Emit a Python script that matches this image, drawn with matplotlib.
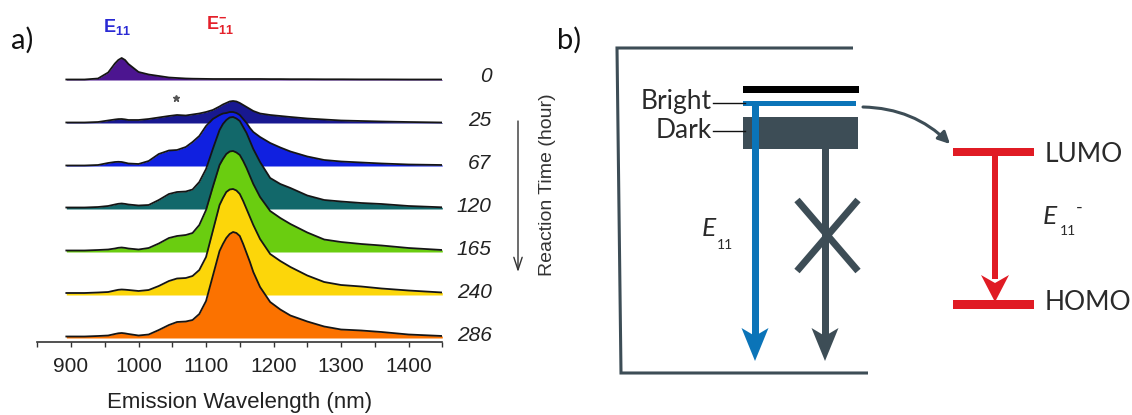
import matplotlib
matplotlib.use("Agg")
import matplotlib.pyplot as plt
from matplotlib.ticker import MultipleLocator
from matplotlib.patches import Rectangle, Polygon

plt.rcParams['font.family'] = ['Liberation Sans', 'DejaVu Sans']
plt.rcParams['mathtext.fontset'] = 'custom'
plt.rcParams['mathtext.rm'] = 'Liberation Sans'
plt.rcParams['mathtext.it'] = 'Liberation Sans:italic'
plt.rcParams['mathtext.bf'] = 'Liberation Sans:bold'

# PL spectra, stacked (intensity in a.u., one offset step = 43)
wavelength = [893, 920, 940, 955, 965, 970, 975, 980, 985, 1000, 1015, 1030, 1045, 1057,
              1070, 1080, 1090, 1100, 1110, 1120, 1125, 1130, 1135, 1140, 1145, 1150, 1155,
              1160, 1165, 1170, 1180, 1195, 1210, 1225, 1250, 1275, 1300, 1330, 1360, 1400, 1450]
times = ['0', '25', '67', '120', '165', '240', '286']
pl_0 = [0.5, 0.5, 1.5, 7.5, 16.5, 20, 22, 20, 16, 8, 5.5, 4, 2.5, 2,
        1.5, 1.3, 1.2, 1.1, 1, 1, 1, 1, 1, 1, 1, 1, 1,
        1, 1, 1, 1, 0.9, 0.9, 0.8, 0.8, 0.7, 0.7, 0.6, 0.6, 0.5, 0.5]
pl_25 = [0.5, 0.5, 1, 2.5, 3.5, 3.9, 4, 3.6, 3, 3, 4, 5.5, 7, 8,
         7.5, 8.5, 9.5, 11, 13, 16.5, 18.5, 20, 21.5, 22, 21.5, 20, 18,
         16, 14, 12, 9.5, 8, 7, 6, 4.5, 3.5, 2.5, 2, 1.5, 1, 0.5]
pl_67 = [0.5, 0.5, 1, 3, 4, 4.2, 4, 3.3, 2.5, 2, 5, 12, 15.5, 16,
         19, 24, 30, 40, 47, 51, 52.5, 53, 54, 54, 53, 51, 47,
         43, 38, 34, 29, 23, 18.5, 14.5, 9.5, 6, 4.5, 3.5, 2.5, 1.5, 1]
pl_120 = [1.5, 1.5, 2, 3, 4.5, 5.2, 5.5, 5.1, 4.5, 3.5, 4, 9, 15, 17,
          17.5, 19.5, 27, 40, 60, 79, 85, 89, 91.5, 92, 90.5, 88, 82,
          76, 68, 60, 47, 31, 25, 21, 13.5, 9, 7.5, 6, 5, 3, 1.7]
pl_165 = [1.5, 1.5, 2, 2.5, 3.5, 4.2, 4.5, 4.1, 3.5, 2.5, 4, 8.5, 14, 16,
          17, 19, 27, 42, 65, 87, 93, 98, 100.5, 101, 99.5, 97, 91,
          84, 76, 68, 55, 41, 34, 28, 19.5, 12.5, 10, 8, 6.5, 4, 2]
pl_240 = [2, 2, 2.5, 3, 4.5, 5.2, 5.5, 5.3, 5, 4, 5, 9, 14, 16.5,
          17, 19, 25, 38, 64, 90, 97, 103, 105.5, 106, 104.5, 101, 94,
          86, 78, 70, 56, 41, 34, 28, 19.5, 13, 10, 8.5, 6.5, 4.5, 2.5]
pl_286 = [1.5, 1.5, 2, 2.5, 4, 4.7, 5, 4.6, 4, 2.5, 3.5, 8, 13, 16,
          16.5, 18, 24, 37, 62, 87, 94, 100, 104, 106, 105, 102, 94,
          85, 76, 66, 51, 36, 28.5, 22.5, 16.5, 11.5, 8.5, 7.5, 6, 3.5, 2]
colors = ['#4c1590', '#181890', '#1020e0', '#12686a', '#6acd10', '#fcd60a', '#fb7200']
offset = 43
star_wl, star_height = 1055, 25

W, H = 1132, 415
fig = plt.figure(figsize=(W / 100, H / 100), dpi=100)

# ---- a) stacked spectra ----
ax = fig.add_axes([37.3 / W, 1 - 342 / H, 405 / W, 302 / H])
series = [pl_0, pl_25, pl_67, pl_120, pl_165, pl_240, pl_286]
n = len(series)
for i, (lab, y, c) in enumerate(zip(times, series, colors)):
    base = (n - 1 - i) * offset
    top = [base + v for v in y]
    ax.fill_between(wavelength, base, top, color=c, lw=0, zorder=2 + 2 * i)
    ax.plot(wavelength, top, color='#151515', lw=1.3, zorder=3 + 2 * i)
    ax.text(1523, base + 3, lab, ha='right', va='center', style='italic',
            fontsize=15, color='#222222', clip_on=False)

ax.plot(star_wl, (n - 2) * offset + star_height, marker='*', ms=5, color='#555555', zorder=20)

ax.set_xlim(850, 1450)
ax.set_ylim(-4, 298)
for s in ['left', 'right', 'top']:
    ax.spines[s].set_visible(False)
ax.spines['bottom'].set_color('#333333')
ax.spines['bottom'].set_linewidth(1.2)
ax.set_yticks([])
ax.xaxis.set_major_locator(MultipleLocator(100))
ax.xaxis.set_minor_locator(MultipleLocator(50))
ax.tick_params(axis='x', which='both', direction='out', length=3.5, width=1,
               color='#333333', labelsize=15, pad=7.5, labelcolor='#222222')
ax.set_xticks(range(900, 1401, 100))
ax.set_xlabel('Emission Wavelength (nm)', fontsize=16, color='#222222', labelpad=11)

ax.text(968, 311, r'$\mathbf{E}_{\mathbf{11}}$', color='#2a2ad4', fontsize=13,
        ha='center', va='center', clip_on=False)
ax.text(1120, 313, r'$\mathbf{E}_{\mathbf{11}}^{\mathbf{-}}$', color='#e4202a', fontsize=13,
        ha='center', va='center', clip_on=False)

# ---- overlay in pixel units: panel labels, time arrow, b) diagram ----
ov = fig.add_axes([0, 0, 1, 1])
ov.set_xlim(0, W)
ov.set_ylim(H, 0)
ov.axis('off')
ov.patch.set_visible(False)

ov.text(22, 40, 'a)', fontsize=21, family='Lato', ha='center', va='center', color='#111111')
ov.text(569, 40, 'b)', fontsize=21, family='Lato', ha='center', va='center', color='#111111')

ov.annotate('', xy=(518, 272), xytext=(518, 121),
            arrowprops=dict(arrowstyle='->,head_length=0.9,head_width=0.3',
                            color='#333333', lw=1.0, shrinkA=0, shrinkB=0))
ov.text(548, 185, 'Reaction Time (hour)', rotation=90, ha='center', va='center',
        fontsize=14, color='#333333')

slate = '#3d4d56'
blue = '#0b74b8'
red = '#e01b24'

ov.plot([853, 617, 621, 868], [48, 48, 373, 373], color=slate, lw=2.2,
        solid_joinstyle='miter', solid_capstyle='butt')

ov.add_patch(Rectangle((743, 86), 116, 7, color='black', lw=0))
ov.add_patch(Rectangle((743, 101), 113, 4.5, color=blue, lw=0))
ov.add_patch(Rectangle((743, 117), 115, 32, color=slate, lw=0))

# emission arrows
ov.add_patch(Rectangle((751.5, 103), 7, 233, color=blue, lw=0))
ov.add_patch(Polygon([(741.5, 328), (755, 361), (768.5, 328), (755, 336)], color=blue, lw=0))
ov.add_patch(Rectangle((821.5, 149), 7, 187, color=slate, lw=0))
ov.add_patch(Polygon([(811.5, 328), (825, 361), (838.5, 328), (825, 336)], color=slate, lw=0))
ov.plot([797, 858], [200, 271], color=slate, lw=5, solid_capstyle='butt')
ov.plot([858, 797], [200, 271], color=slate, lw=5, solid_capstyle='butt')

ov.plot([713, 745], [103, 103], color='#111111', lw=1)
ov.plot([713, 745], [131, 131], color='#111111', lw=1)
ov.text(712, 101, 'Bright', ha='right', va='center', fontsize=19, family='Lato', color='#2a2a2a')
ov.text(712, 130, 'Dark', ha='right', va='center', fontsize=19, family='Lato', color='#2a2a2a')
ov.text(702, 228, 'E', ha='left', va='center', fontsize=19, family='Lato', style='italic', color='#2a2a2a')
ov.text(717, 245, '11', ha='left', va='center', fontsize=10, family='Lato', color='#2a2a2a')

ov.annotate('', xy=(950, 144), xytext=(863, 107),
            arrowprops=dict(arrowstyle='-|>,head_length=0.7,head_width=0.35',
                            connectionstyle='arc3,rad=-0.2', color=slate, lw=2.2,
                            shrinkA=0, shrinkB=0))

# LUMO/HOMO levels and the trion emission
ov.add_patch(Rectangle((953, 147.5), 81, 8.5, color=red, lw=0))
ov.add_patch(Rectangle((953, 300), 81, 8.5, color=red, lw=0))
ov.add_patch(Rectangle((992, 155), 6, 124, color=red, lw=0))
ov.add_patch(Polygon([(981, 275), (995, 302), (1009, 275), (995, 283)], color=red, lw=0))
ov.text(1045, 154, 'LUMO', ha='left', va='center', fontsize=19, family='Lato', color='#2a2a2a')
ov.text(1045, 302, 'HOMO', ha='left', va='center', fontsize=19, family='Lato', color='#2a2a2a')
ov.text(1043, 216, 'E', ha='left', va='center', fontsize=19, family='Lato', style='italic', color='#2a2a2a')
ov.text(1060, 231, '11', ha='left', va='center', fontsize=10, family='Lato', color='#2a2a2a')
ov.text(1076, 208, '-', ha='left', va='center', fontsize=13, family='Lato', color='#2a2a2a')

fig.savefig('out.png', dpi=100)
